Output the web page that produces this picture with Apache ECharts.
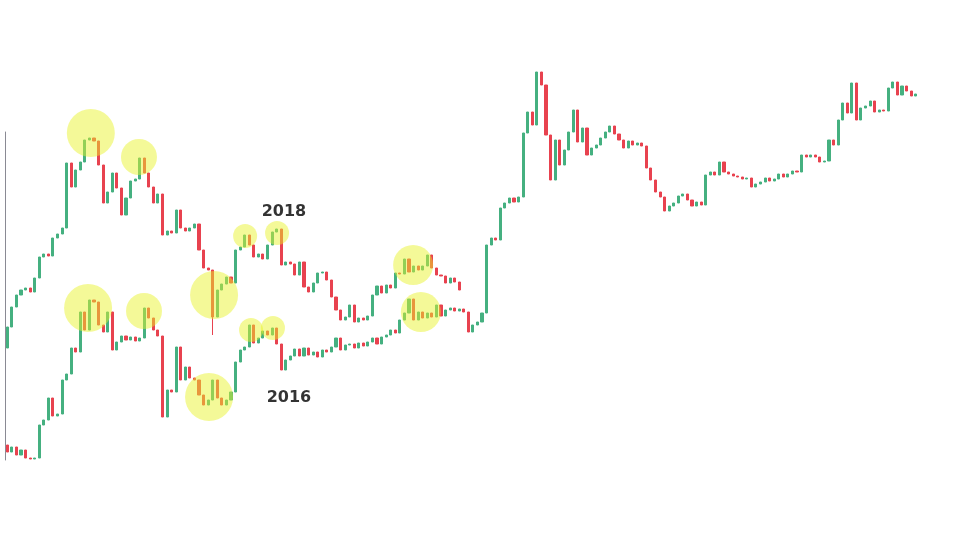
<!DOCTYPE html>
<html><head><meta charset="utf-8">
<script src="https://cdn.jsdelivr.net/npm/echarts@6/dist/echarts.min.js"></script>
<style>html,body{margin:0;padding:0;background:#fff}#c{width:960px;height:556px}</style>
</head><body><div id="c"></div>
<script>
// 2016 fractal (lower, continues to the right)
const lowerOpen0 = 15;
const lowerClose = [8,13,5,10,2,1,2,35,40,62, 44,46,80,86,112,108,148,130,160,158,
 135,128,148,110,118,124,120,123,119,122, 152,142,130,124,43,70,68,113,80,93,
 82,80,65,55,60,80,62,55,60,68, 98,110,113,135,117,122,129,125,132,116,
 90,100,104,111,104,112,105,108,103,110, 108,113,122,110,115,116,112,117,114,118,
 122,116,123,125,130,127,140,147,161,140, 148,142,147,143,155,144,150,152,149,151,
 148,128,135,138,147,215,222,220,252,257, 262,258,263,327,348,335,388,375,325,280,
 320,295,310,328,350,318,332,305,312,315, 322,328,334,326,320,312,319,315,317,314,
 292,280,268,263,249,254,257,264,266,260, 254,258,255,285,288,285,298,288,286,284,
 283,281,282,273,276,278,282,279,281,286, 283,286,289,288,305,303,305,303,298,299,
 320,315,340,357,347,377,340,352,354,359, 348,350,349,372,378,365,374,369,364,366];
// 2018 fractal (upper, overlaid)
const upperOpen0 = 112;
const upperClose = [133,153,165,170,172,168,182,203,206,204, 222,226,232,297,273,290,298,320,322,319,
 295,257,268,287,272,245,262,279,281,302, 287,273,257,266,225,229,227,250,232,229,
 232,236,210,192,190,143,170,176,183,177, 210,213,225,215,203,206,201,215,228,231,
 195,198,196,185,198,173,168,177,187,188, 180,163,150,140,143,155,138,142,140,144,
 165,174,167,175,172,187,186,201,188,194, 190,194,205,192,185,184,177,182,178,170];
const upperLowWicks = {45: 125};
// highlight circles: [index, value, diameter]
const circles = [[18.3,327,48],[28.85,303,36],[52.1,224,24],[59.1,227,24],
 [17.7,152,48],[29.95,149,36],[45.3,165,48],[44.2,63,48],[53.4,130,24],[58.2,132,24],
 [88.9,195,40],[90.6,148,40]];
const labels = [['2018',60.6,248],['2016',61.7,62]];

const N = 200;
const categories = Array.from({length:N},(_,i)=>String(i));
function toOHLC(open0, closes, wicks){
  const out=[]; let prev=open0;
  closes.forEach((c,i)=>{
    const o=prev; let lo=Math.min(o,c), hi=Math.max(o,c);
    if(wicks && wicks[i]!=null) lo=wicks[i];
    out.push([o,c,lo,hi]); prev=c;
  });
  return out;
}
const GREEN='#45b080', RED='#e8424f';
const candleStyle={color:GREEN,color0:RED,borderColor:GREEN,borderColor0:RED,borderWidth:1};
const chart = echarts.init(document.getElementById('c'),null,{renderer:'canvas'});
chart.setOption({
  animation:false,
  backgroundColor:'#ffffff',
  grid:[{left:5,right:42,top:0,bottom:96},{left:5,width:10,top:132,bottom:96}],
  xAxis:[
    {type:'category',data:categories,gridIndex:0,show:false,boundaryGap:true},
    {type:'value',gridIndex:0,min:-0.5,max:N-0.5,show:false},
    {type:'value',gridIndex:1,show:false}
  ],
  yAxis:[
    {type:'value',gridIndex:0,min:0,max:460,show:false},
    {type:'value',gridIndex:1,min:0,max:1,show:true,axisLine:{show:true,lineStyle:{color:'#8a8a94',width:1}},
     axisTick:{show:false},axisLabel:{show:false},splitLine:{show:false}}
  ],
  series:[
    {type:'candlestick',xAxisIndex:0,yAxisIndex:0,data:toOHLC(lowerOpen0,lowerClose),barWidth:2.6,itemStyle:candleStyle,z:2},
    {type:'candlestick',xAxisIndex:0,yAxisIndex:0,data:toOHLC(upperOpen0,upperClose,upperLowWicks),barWidth:2.6,itemStyle:candleStyle,z:2},
    {type:'scatter',xAxisIndex:1,yAxisIndex:0,data:circles,symbol:'circle',symbolSize:d=>d[2],
     itemStyle:{color:'rgba(232,242,40,0.6)'},z:5,silent:true},
    {type:'scatter',xAxisIndex:1,yAxisIndex:0,data:labels.map(l=>({value:[l[1],l[2]],name:l[0]})),
     symbolSize:1,itemStyle:{color:'rgba(0,0,0,0)'},z:6,
     label:{show:true,position:'inside',formatter:p=>p.name,color:'#000',fontSize:16,fontWeight:900,fontFamily:'DejaVu Sans'}}
  ]
});
</script></body></html>
